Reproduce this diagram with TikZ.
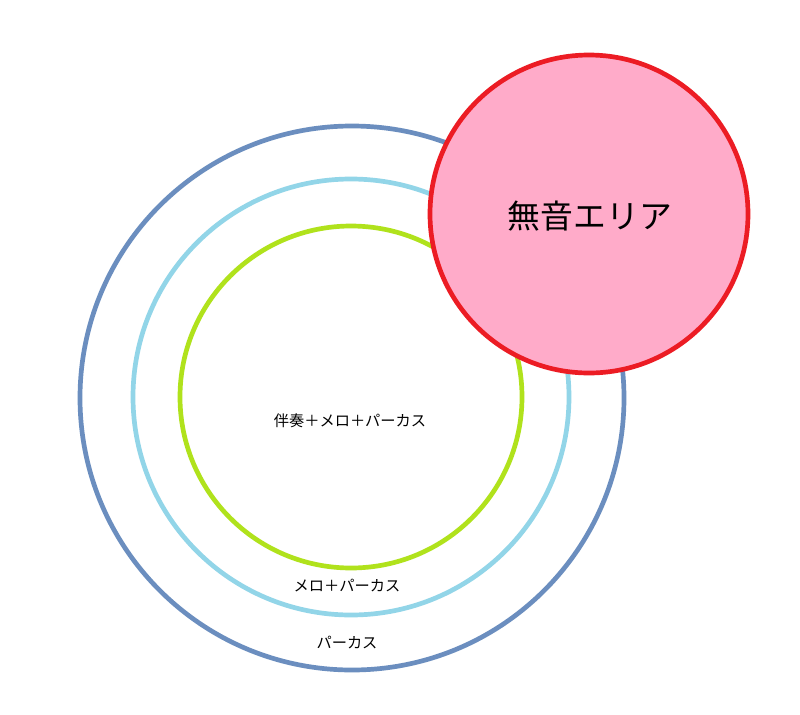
\documentclass[tikz,border=0pt]{standalone}
\usepackage{fontspec}
\newfontfamily\cjk{Noto Sans CJK JP}
\definecolor{outerb}{HTML}{6B8EBF}
\definecolor{midb}{HTML}{92D5E8}
\definecolor{inng}{HTML}{B0E21C}
\definecolor{redc}{HTML}{EC1C24}
\definecolor{pinkc}{HTML}{FFABC9}
\begin{document}
\begin{tikzpicture}[x=0.03cm,y=-0.03cm,
  ring/.style={line width=4pt},
  lbl/.style={font=\cjk\fontsize{13}{15}\selectfont}]
\useasboundingbox[fill=white] (0,0) rectangle (800,714);
\draw[ring,outerb] (352,398) circle[radius=272];
\draw[ring,midb] (351,397) circle[radius=218];
\draw[ring,inng] (351,397) circle[radius=171];
\node[circle,draw=redc,fill=pinkc,line width=4pt,minimum size=318*0.03cm,inner sep=0] (mute) at (589,214) {};
\node[font=\cjk\fontsize{28}{32}\selectfont] (mt) at (590,216) {無音エリア};
\node[lbl] (a) at (350,421) {伴奏＋メロ＋パーカス};
\node[lbl] (b) at (347,586) {メロ＋パーカス};
\node[lbl] (c) at (347,643) {パーカス};
\end{tikzpicture}
\end{document}
